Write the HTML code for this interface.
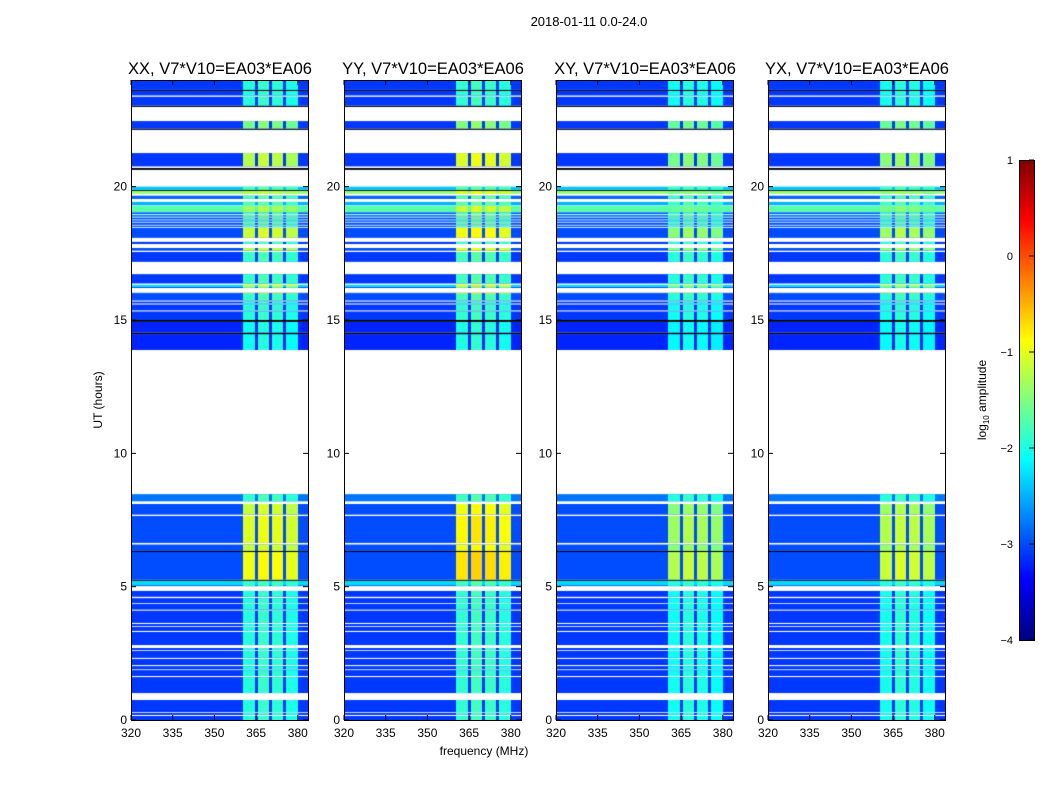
<!DOCTYPE html>
<html><head><meta charset="utf-8">
<style>
body{margin:0;background:#fff;width:1050px;height:800px;overflow:hidden;position:relative;font-family:"Liberation Sans",sans-serif}
canvas{position:absolute}
svg{position:absolute;left:0;top:0}
text{font-family:"Liberation Sans",sans-serif}
</style></head><body>
<canvas id="c0" width="177" height="640" style="left:131px;top:80px"></canvas>
<canvas id="c1" width="177" height="640" style="left:344px;top:80px"></canvas>
<canvas id="c2" width="177" height="640" style="left:556px;top:80px"></canvas>
<canvas id="c3" width="177" height="640" style="left:768px;top:80px"></canvas>
<canvas id="cb" width="15" height="480" style="left:1019px;top:160px"></canvas>
<svg id="ov" width="1050" height="800"></svg>
<script>
// panel titles
const titles=["XX, V7*V10=EA03*EA06","YY, V7*V10=EA03*EA06","XY, V7*V10=EA03*EA06","YX, V7*V10=EA03*EA06"];
const panelX=[131,344,556,768];
const panelBoost=[0,0.2,-0.3,-0.2];
const yTicks=[0,5,10,15,20];
const xTicks=[320,335,350,365,380];
const cbTicks=[1,0,-1,-2,-3,-4];
// frequency sub-bands (MHz) and band offsets
const bandRanges=[[360.3,364.6],[365.7,369.8],[370.8,374.8],[375.8,380.0]];
const bandOffsets=[0.05,0.15,0.1,0.0];
// time blocks: [t0,t1,baseLevel,bandLevel]; base -9 = black line
const blocks=[
[0,0.15,-3.1,-2.0],[0.19,0.27,-3.1,-2.0],[0.3,0.75,-3.1,-2.0],
[1.01,1.61,-3.1,-2.0],[1.65,1.87,-3.1,-2.0],[1.9,2.02,-3.1,-2],[2.06,2.29,-3.1,-2],
[2.33,2.59,-3.1,-2],[2.62,2.7,-3.1,-2],[2.81,3.3,-3.1,-2],[3.34,3.49,-3.1,-2],[3.52,3.6,-3.1,-2],
[3.64,4.1,-3.1,-2],[4.14,4.35,-3.1,-2],[4.38,4.57,-3.1,-2],[4.62,4.84,-3.1,-2],
[5.02,5.06,-2.9,-2],[5.06,5.22,-2.3,-1.9],[5.22,5.26,-9,-9],
[5.26,6.3,-3.0,-1.0],[6.3,6.34,-9,-9],[6.34,6.58,-3.0,-1.2],
[6.64,7.65,-3.0,-1.1],[7.7,8.1,-3.0,-1.2],[8.2,8.47,-2.8,-1.9],
[13.875,14.47,-3.2,-2.1],[14.47,14.53,-9,-9],[14.53,14.93,-3.2,-2.1],[14.93,15.0,-9,-9],
[15.0,15.32,-3.1,-2.0],[15.36,15.58,-3.1,-2],[15.62,15.69,-3.1,-2],[15.73,15.98,-3.0,-1.9],
[15.98,16.02,-3,-1.4],[16.2,16.24,-3,-2],[16.24,16.32,-2.3,-1.1],[16.37,16.72,-3.1,-1.9],
[17.18,17.55,-3.1,-1.9],[17.6,17.7,-3,-1.3],[17.85,17.93,-3.1,-1.9],
[18.08,18.45,-3.0,-1.2],[18.48,18.54,-2.9,-1.8],[18.57,18.65,-3.0,-1.8],[18.68,18.74,-2.9,-1.8],
[18.77,18.84,-3.0,-1.8],[18.87,18.94,-2.7,-1.7],[18.97,19.04,-2.9,-1.8],
[19.05,19.28,-1.7,-1.4],[19.3,19.43,-2.5,-1.8],[19.54,19.66,-2.9,-1.8],
[19.73,19.85,-1.4,-1.3],[19.85,19.88,-9,-9],[19.88,20.0,-2.4,-1.8],
[20.63,20.7,-9,-9],[20.76,21.26,-3.1,-1.3],
[22.13,22.18,-9,-9],[22.18,22.46,-3.1,-1.6],
[22.99,23.04,-9,-9],[23.04,23.37,-3.1,-2.0],[23.42,23.59,-3.1,-2],[23.59,23.63,-9,-9],[23.63,24,-3.1,-2]
];
function jet(v){
  const c=x=>Math.max(0,Math.min(1,x));
  const r=c(1.5-Math.abs(4*v-3)), g=c(1.5-Math.abs(4*v-2)), b=c(1.5-Math.abs(4*v-1));
  return `rgb(${Math.round(r*255)},${Math.round(g*255)},${Math.round(b*255)})`;
}
const lv=l=>jet((l+4)/5);
const fx=f=>(f-320)*2.78;
const hy=h=>(24-h)*26.667;
for(let p=0;p<4;p++){
  const ctx=document.getElementById('c'+p).getContext('2d');
  for(const [t0,t1,base,band] of blocks){
    const y0=hy(t1), y1=hy(t0);
    if(base<=-9){ctx.fillStyle='#000';ctx.fillRect(0,y0,177,Math.max(1,y1-y0));continue;}
    ctx.fillStyle=lv(base);ctx.fillRect(0,y0,177,y1-y0);
    bandRanges.forEach((r,i)=>{
      const l=Math.min(0.6,band+bandOffsets[i]+(band>-1.5?panelBoost[p]:panelBoost[p]*0.3));
      ctx.fillStyle=lv(l);ctx.fillRect(Math.round(fx(r[0])),y0,Math.round(fx(r[1])-fx(r[0])),y1-y0);
    });
  }
}
// colorbar
const cb=document.getElementById('cb').getContext('2d');
for(let i=0;i<480;i++){cb.fillStyle=jet(1-i/479);cb.fillRect(0,i,15,1);}
const ns='http://www.w3.org/2000/svg', ov=document.getElementById('ov');
function mk(tag,attrs,txt){const e=document.createElementNS(ns,tag);for(const k in attrs)e.setAttribute(k,attrs[k]);if(txt!==undefined)e.textContent=txt;ov.appendChild(e);return e;}
let t=mk('text',{x:589,y:26,'font-size':13,'text-anchor':'middle'},'2018-01-11 0.0-24.0');


panelX.forEach((x0,p)=>{
  const f=mk('rect',{x:x0+0.5,y:80.5,width:177,height:640,fill:'none',stroke:'#000'});
  
  
  const tt=mk('text',{x:x0+89,y:74,'font-size':16.5,'text-anchor':'middle'},titles[p]);
  
  
  yTicks.forEach(v=>{
    const y=80+hy(v);
    mk('line',{x1:x0,x2:x0+5,y1:y,y2:y,stroke:'#000'});
    mk('line',{x1:x0+177-5,x2:x0+177,y1:y,y2:y,stroke:'#000'});
    const l=mk('text',{x:x0-4,y:y+4,'font-size':12,'text-anchor':'end'},v);
    
    
  });
  xTicks.forEach(v=>{
    const x=x0+fx(v);
    mk('line',{x1:x,x2:x,y1:720,y2:715,stroke:'#000'});
    mk('line',{x1:x,x2:x,y1:80,y2:85,stroke:'#000'});
    const l=mk('text',{x:x,y:737,'font-size':12,'text-anchor':'middle'},v);
    
    
  });
});
t=mk('text',{x:102,y:400,'font-size':12,'text-anchor':'middle',transform:'rotate(-90 102 400)'},'UT (hours)');


t=mk('text',{x:484,y:755,'font-size':12,'text-anchor':'middle'},'frequency (MHz)');


const cbf=mk('rect',{x:1019.5,y:160.5,width:15,height:480,fill:'none',stroke:'#000'});


cbTicks.forEach(v=>{
  const y=160+(1-v)*96;
  mk('line',{x1:1029,x2:1034,y1:y,y2:y,stroke:'#000'});
  const l=mk('text',{x:1013,y:y+4,'font-size':11,'text-anchor':'end'},v<0?'\u2212'+(-v):v);
  
  
});
t=mk('text',{x:986,y:400,'font-size':12,'text-anchor':'middle',transform:'rotate(-90 986 400)'});
t.innerHTML='log<tspan font-size="8" dy="3">10</tspan><tspan dy="-3"> amplitude</tspan>';


</script>
</body></html>
